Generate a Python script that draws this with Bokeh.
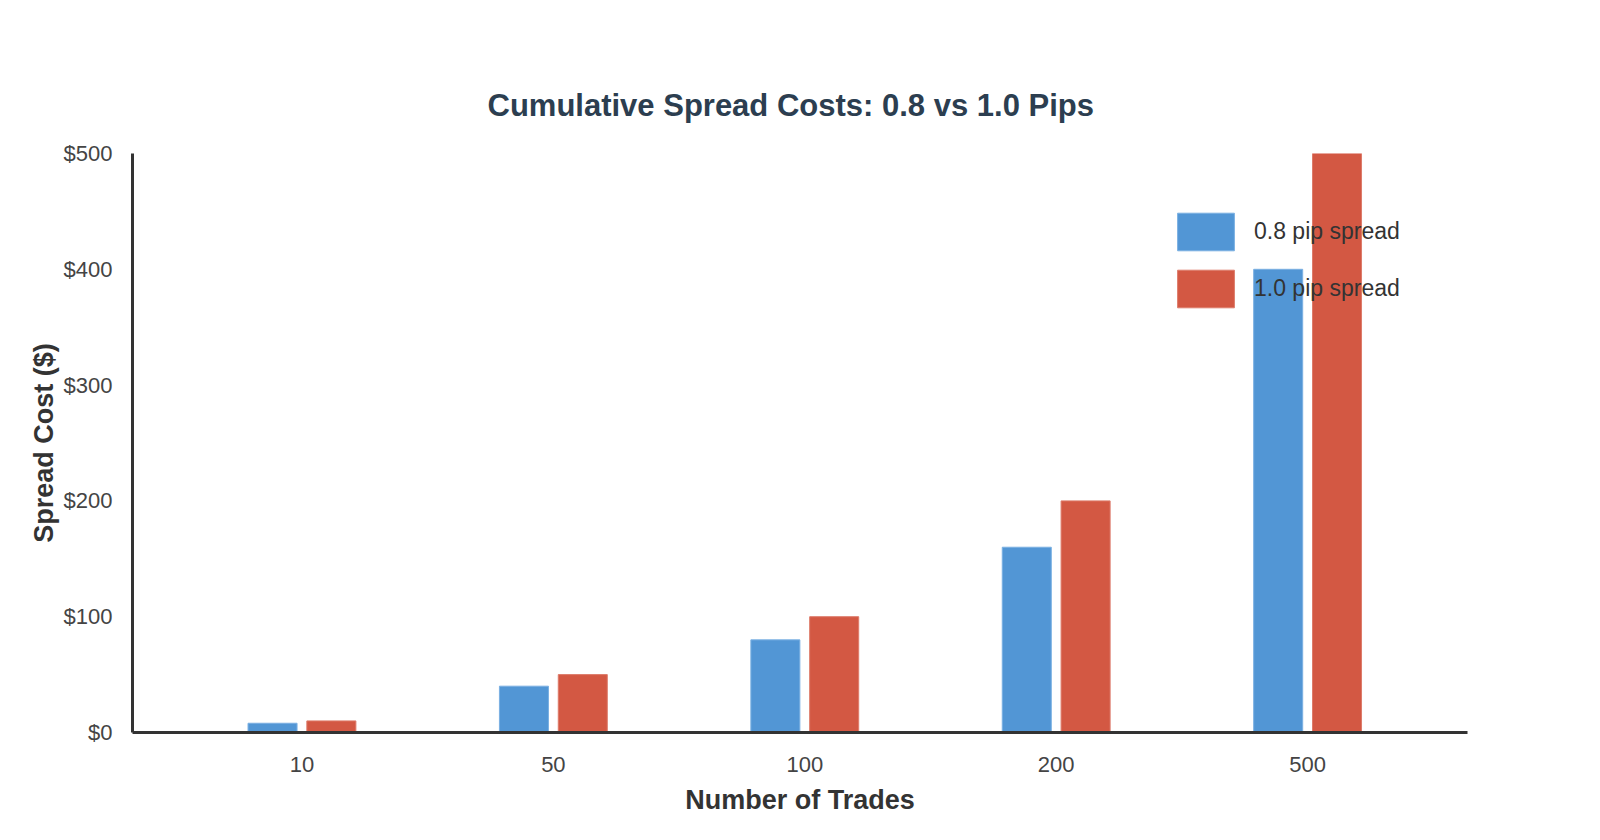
from bokeh.plotting import figure
from bokeh.models import ColumnDataSource, FixedTicker, Legend, LegendItem, Range1d, NumeralTickFormatter
from bokeh.embed import file_html
from bokeh.resources import INLINE

categories = ["10", "50", "100", "200", "500"]
spread_08 = [8, 40, 80, 160, 400]
spread_10 = [10, 50, 100, 200, 500]
series_names = ["0.8 pip spread", "1.0 pip spread"]
colors = ["#5296d5", "#d35843"]

idx = list(range(len(categories)))
src = ColumnDataSource(dict(
    x08=[i - 0.117 for i in idx], x10=[i + 0.117 for i in idx],
    y08=spread_08, y10=spread_10,
))

FONT = "Liberation Sans"

p = figure(width=1592, height=832, output_backend="svg", toolbar_location=None,
           x_range=Range1d(-0.674, 4.636), y_range=Range1d(0, 500),
           min_border_left=132, min_border_right=125, min_border_top=153, min_border_bottom=100)
p.outline_line_color = None
p.grid.visible = False

r1 = p.vbar(x="x08", top="y08", width=0.195, source=src, fill_color=colors[0],
            line_color="#7ab0e2", line_width=1)
r2 = p.vbar(x="x10", top="y10", width=0.195, source=src, fill_color=colors[1],
            line_color="#dd7b6a", line_width=1)

p.title.text = "Cumulative Spread Costs: 0.8 vs 1.0 Pips"
p.title.text_font = FONT
p.title.text_font_size = "31px"
p.title.text_color = "#2c3e50"
p.title.align = "left"
p.title.offset = 355
p.title.standoff = 62

p.xaxis.ticker = FixedTicker(ticks=idx)
p.xaxis.major_label_overrides = {i: c for i, c in zip(idx, categories)}
p.yaxis.ticker = FixedTicker(ticks=[0, 100, 200, 300, 400, 500])
p.yaxis.formatter = NumeralTickFormatter(format="$0")

for ax in (p.xaxis, p.yaxis):
    ax.axis_line_color = "#333333"
    ax.axis_line_width = 3
    ax.major_tick_line_color = None
    ax.minor_tick_line_color = None
    ax.major_label_text_font = FONT
    ax.major_label_text_font_size = "22px"
    ax.major_label_text_color = "#444444"
    ax.axis_label_text_font = FONT
    ax.axis_label_text_font_size = "27px"
    ax.axis_label_text_font_style = "bold"
    ax.axis_label_text_color = "#333333"

p.xaxis.axis_label = "Number of Trades"
p.yaxis.axis_label = "Spread Cost ($)"
p.xaxis.major_label_standoff = 18
p.xaxis.axis_label_standoff = 10
p.yaxis.major_label_standoff = 14
p.yaxis.axis_label_standoff = 2

legend = Legend(items=[LegendItem(label=series_names[0], renderers=[r1]),
                       LegendItem(label=series_names[1], renderers=[r2])],
                location=(1038, 420), orientation="vertical")
legend.background_fill_alpha = 0
legend.border_line_alpha = 0
legend.padding = 0
legend.margin = 0
legend.spacing = 10
legend.glyph_width = 71
legend.glyph_height = 47
legend.label_height = 47
legend.label_standoff = 13
legend.label_text_font = FONT
legend.label_text_font_size = "23px"
legend.label_text_color = "#333333"
p.add_layout(legend)

open("out.html", "w").write(file_html(p, INLINE))
